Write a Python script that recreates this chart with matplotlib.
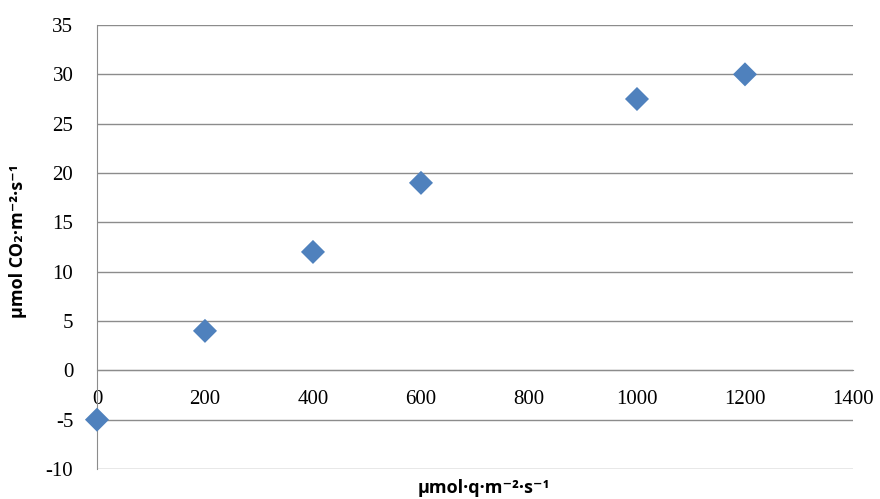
import numpy as np
import matplotlib.pyplot as plt

# ---------------------------------------------------------------------------
# Data
# ---------------------------------------------------------------------------
light = [0, 200, 400, 600, 1000, 1200]          # µmol q m-2 s-1
assimilation = [-5, 4, 12, 19, 27.5, 30]        # µmol CO2 m-2 s-1

x_ticks = [0, 200, 400, 600, 800, 1000, 1200, 1400]
y_ticks = [-10, -5, 0, 5, 10, 15, 20, 25, 30, 35]

grid_col = "#8c8c8c"
marker_col = "#4f81bd"

plt.rcParams["axes.unicode_minus"] = False

fig = plt.figure(figsize=(8.8, 4.99), dpi=100)
ax = fig.add_axes([0.1102, 0.0601, 0.8591, 0.8898])

ax.scatter(light, assimilation, marker="D", s=150, color=marker_col,
           edgecolors="none", zorder=3, clip_on=False)

ax.set_xlim(0, 1400)
ax.set_ylim(-10, 35)
ax.set_xticks(x_ticks)
ax.set_yticks(y_ticks)

ax.grid(True, axis="y", color=grid_col, linewidth=1.0)
ax.set_axisbelow(True)

for side in ["top", "right"]:
    ax.spines[side].set_visible(False)
ax.spines["left"].set_color(grid_col)
ax.spines["bottom"].set_position(("data", 0))
ax.spines["bottom"].set_color(grid_col)

serif = "Liberation Serif"
ax.tick_params(axis="both", length=0, labelsize=15, colors="black")
ax.tick_params(axis="y", pad=17)
ax.tick_params(axis="x", pad=14)
for lbl in ax.get_xticklabels() + ax.get_yticklabels():
    lbl.set_fontfamily(serif)

label_font = dict(family=["Open Sans", "DejaVu Sans"], fontweight="bold", fontsize=13)
fig.text(0.55, 0.022, "µmol·q·m⁻²·s⁻¹", ha="center", va="center", **label_font)
fig.text(0.02, 0.517, "µmol CO₂·m⁻²·s⁻¹", ha="center", va="center",
         rotation=90, **label_font)

fig.savefig("out.png", dpi=100)
